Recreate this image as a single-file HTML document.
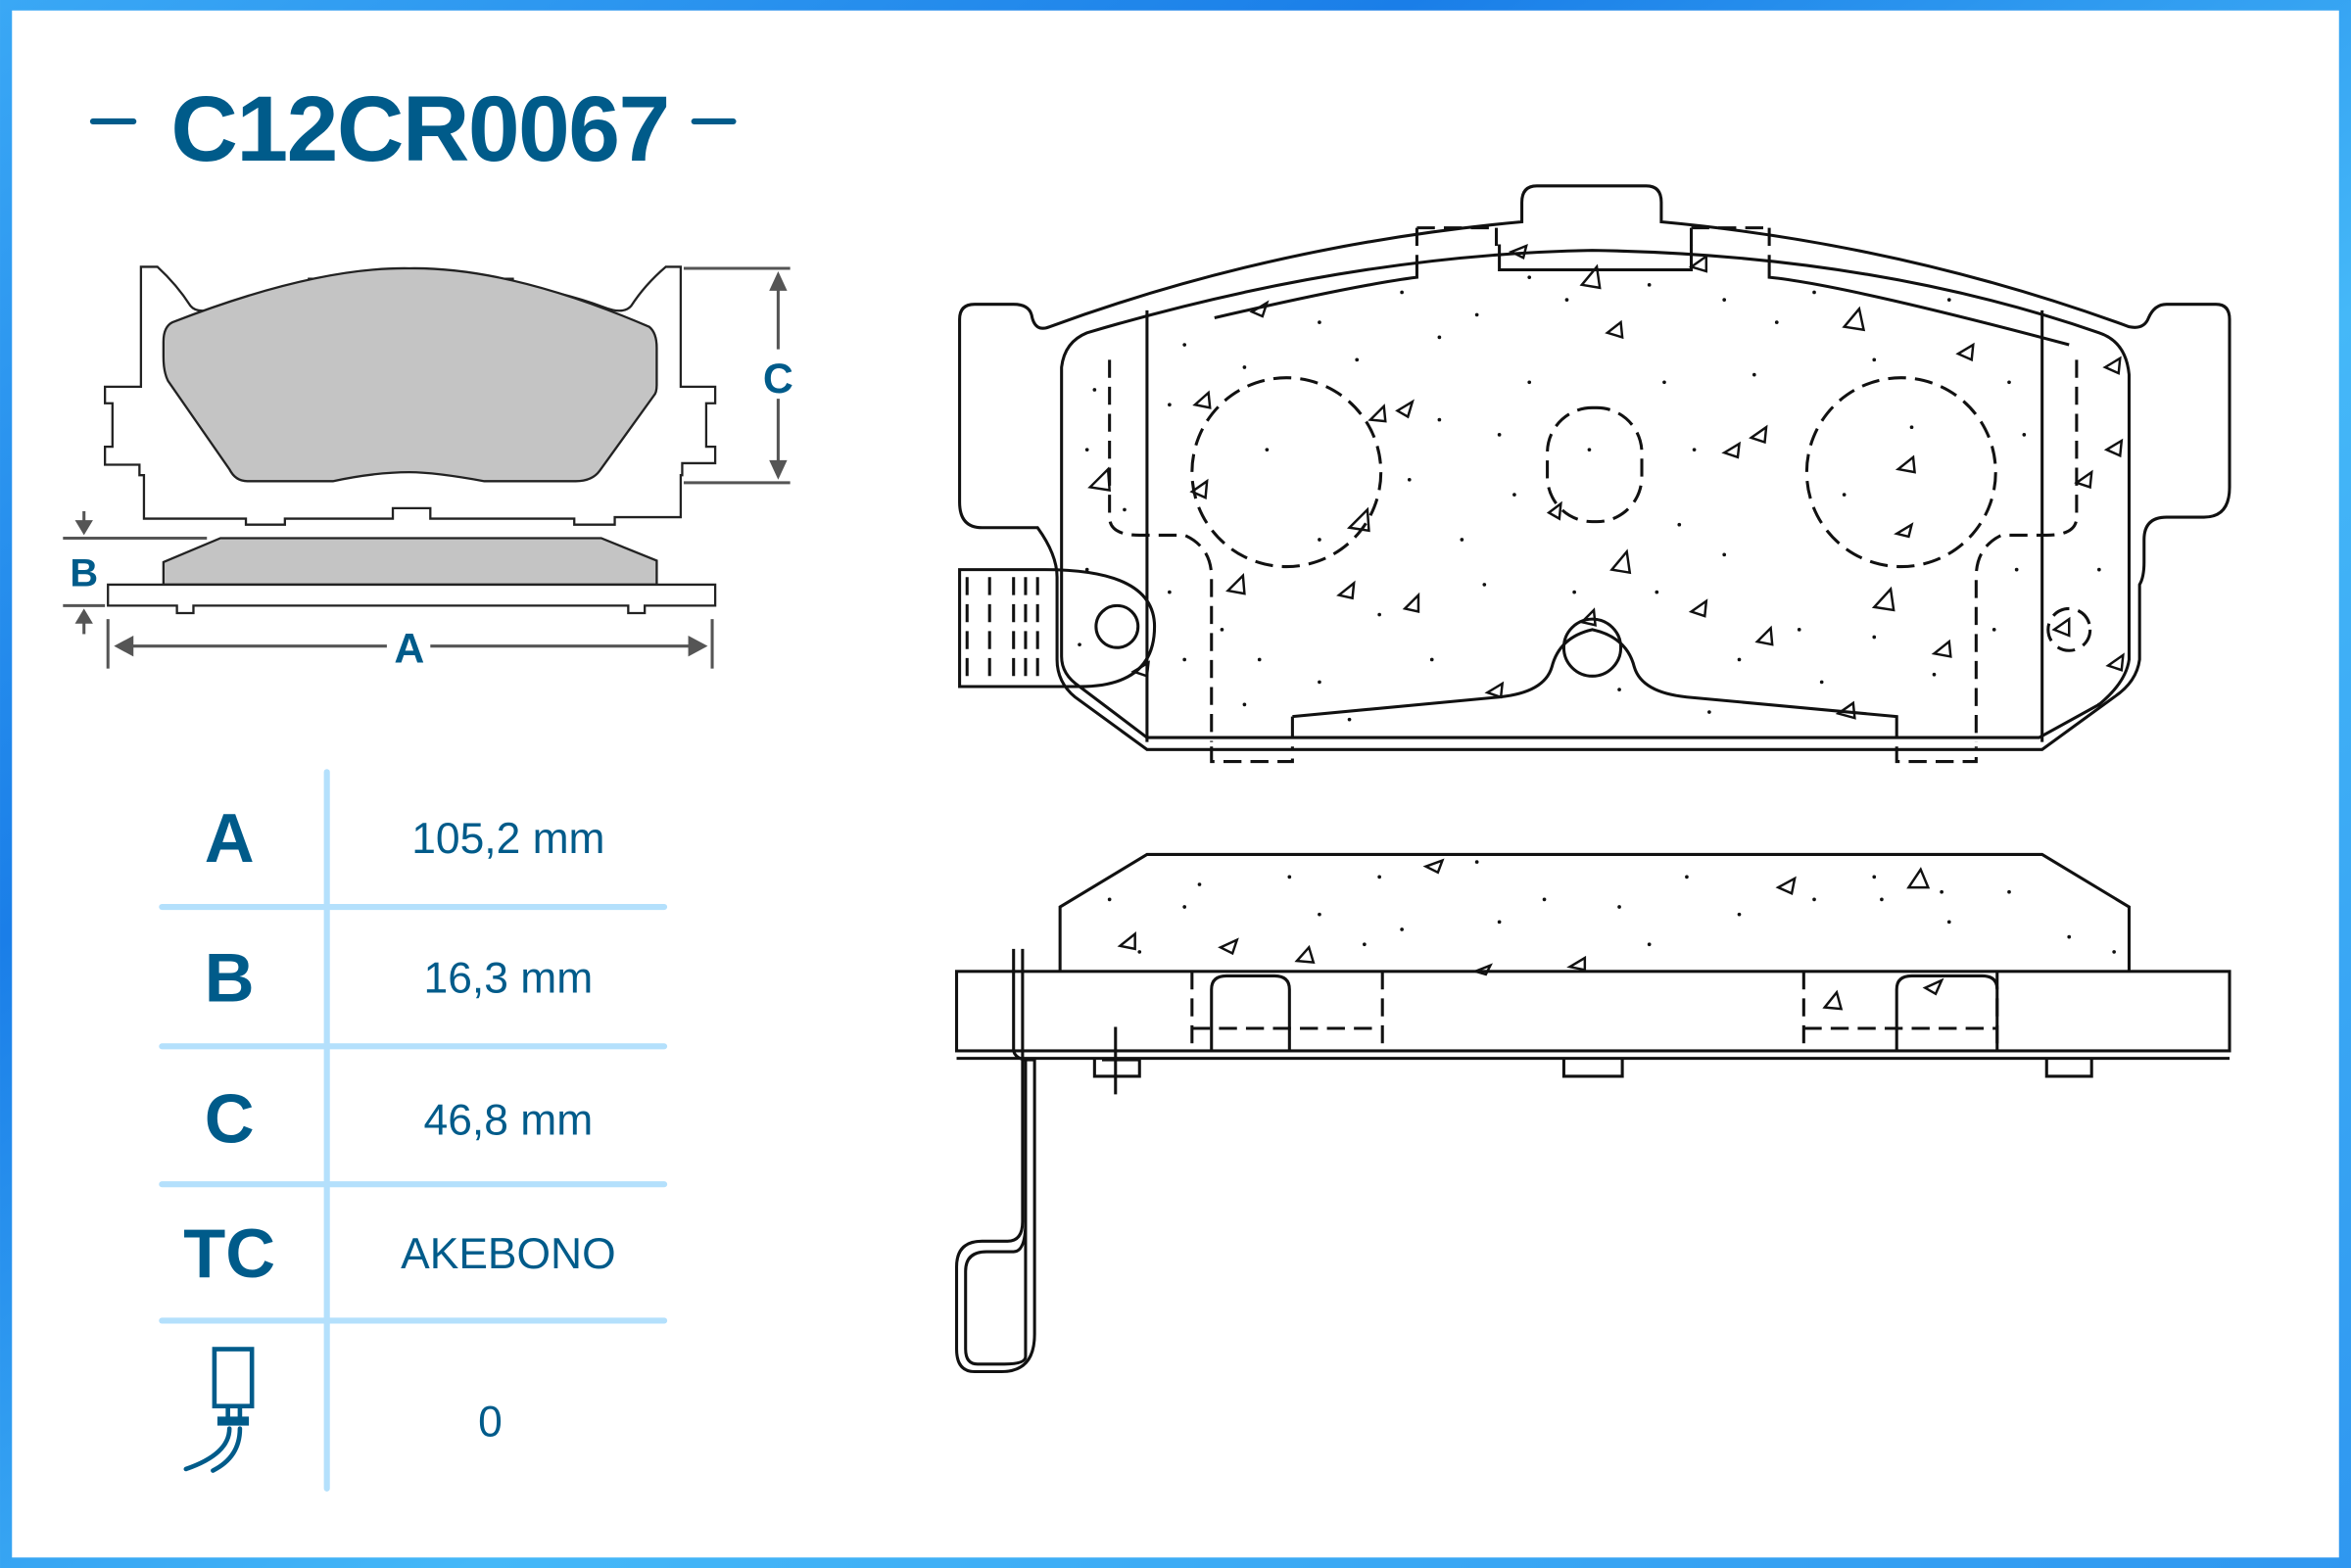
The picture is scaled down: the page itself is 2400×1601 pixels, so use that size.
<!DOCTYPE html>
<html><head><meta charset="utf-8"><style>
html,body{margin:0;padding:0;background:#fff}
svg{display:block}
text{font-family:"Liberation Sans",sans-serif}
</style></head><body>
<svg width="2400" height="1601" viewBox="0 0 1568 1046" xmlns="http://www.w3.org/2000/svg">
<defs>
<linearGradient id="bg" x1="0" y1="0" x2="1" y2="1">
<stop offset="0" stop-color="#3aa8f5"/><stop offset="0.3" stop-color="#1a7ee8"/><stop offset="0.6" stop-color="#45b8f8"/><stop offset="1" stop-color="#2f97f0"/>
</linearGradient>
</defs>
<rect x="0" y="0" width="1568" height="1046" fill="url(#bg)"/>
<rect x="8" y="7" width="1552" height="1032" fill="#fff"/>

<text x="280" y="107" font-size="62" font-weight="bold" fill="#005b8a" text-anchor="middle" letter-spacing="-1">C12CR0067</text>
<line x1="62" y1="81" x2="89" y2="81" stroke="#005b8a" stroke-width="4" stroke-linecap="round"/>
<line x1="463" y1="81" x2="489" y2="81" stroke="#005b8a" stroke-width="4" stroke-linecap="round"/>

<g fill="none" stroke="#222" stroke-width="1.5">
<path d="M94,178 H105 Q118,190 127,204 Q132,210 145,205 Q175,194 206,190 V186 H258 V183 H291 V186 H342 V190 Q373,194 403,205 Q416,210 421,204 Q430,190 444,178 H454 V258 H477 V269 H471 V298 H477 V309 H455 V317 H454 V345 H410 V350 H383 V346 H287 V339 H262 V346 H190 V350 H164 V346 H96 V317 H93 V310 H70 V298 H75 V269 H70 V258 H94 Z"/>
</g>
<path d="M115,215 Q210,178 273,179 Q340,178 433,218 Q438,222 438,232 V257 Q438,262 436,264 L400,314 Q395,321 384,321 H323 Q290,315 273,315 Q250,315 222,321 H165 Q157,321 153,313 L112,254 Q109,248 109,238 V228 Q109,218 115,215 Z" fill="#c4c4c4" stroke="#222" stroke-width="1.5"/>
<line x1="456" y1="179" x2="527" y2="179" stroke="#555" stroke-width="2"/>
<line x1="456" y1="322" x2="527" y2="322" stroke="#555" stroke-width="2"/>
<line x1="519" y1="190" x2="519" y2="233" stroke="#555" stroke-width="2"/>
<line x1="519" y1="266" x2="519" y2="312" stroke="#555" stroke-width="2"/>
<path d="M513,194 L519,181 L525,194 Z M513,307 L519,320 L525,307 Z" fill="#555"/>
<text x="519" y="262" font-size="28" font-weight="bold" fill="#005b8a" text-anchor="middle">C</text>
<path d="M109,375 L147,359 H401 L438,374 V390 H109 Z" fill="#c4c4c4" stroke="#222" stroke-width="1.5"/>
<path d="M72,390 H477 V404 H430 V409 H419 V404 H129 V409 H118 V404 H72 Z" fill="#fff" stroke="#222" stroke-width="1.5"/>
<line x1="42" y1="359" x2="138" y2="359" stroke="#555" stroke-width="2"/>
<line x1="42" y1="404" x2="70" y2="404" stroke="#555" stroke-width="2"/>
<line x1="56" y1="341" x2="56" y2="352" stroke="#555" stroke-width="2"/>
<line x1="56" y1="411" x2="56" y2="423" stroke="#555" stroke-width="2"/>
<path d="M50,347 L56,357 L62,347 Z M50,416 L56,406 L62,416 Z" fill="#555"/>
<text x="56" y="391" font-size="26" font-weight="bold" fill="#005b8a" text-anchor="middle">B</text>
<line x1="72" y1="413" x2="72" y2="446" stroke="#555" stroke-width="2"/>
<line x1="475" y1="413" x2="475" y2="446" stroke="#555" stroke-width="2"/>
<line x1="80" y1="431" x2="258" y2="431" stroke="#555" stroke-width="2"/>
<line x1="287" y1="431" x2="470" y2="431" stroke="#555" stroke-width="2"/>
<path d="M76,431 L89,424 V438 Z M472,431 L459,424 V438 Z" fill="#555"/>
<text x="273" y="442" font-size="28" font-weight="bold" fill="#005b8a" text-anchor="middle">A</text>

<g stroke="#b4e0fc" stroke-width="4" stroke-linecap="round">
<line x1="218" y1="515" x2="218" y2="993"/>
<line x1="108" y1="605" x2="443" y2="605"/>
<line x1="108" y1="698" x2="443" y2="698"/>
<line x1="108" y1="790" x2="443" y2="790"/>
<line x1="108" y1="881" x2="443" y2="881"/>
</g>
<g fill="#005b8a" text-anchor="middle">
<text x="153" y="575" font-size="46" font-weight="bold">A</text>
<text x="153" y="668" font-size="46" font-weight="bold">B</text>
<text x="153" y="762" font-size="46" font-weight="bold">C</text>
<text x="153" y="852" font-size="46" font-weight="bold">TC</text>
<text x="339" y="569" font-size="29">105,2 mm</text>
<text x="339" y="662" font-size="29">16,3 mm</text>
<text x="339" y="757" font-size="29">46,8 mm</text>
<text x="339" y="846" font-size="29">AKEBONO</text>
<text x="327" y="958" font-size="29">0</text>
</g>
<g fill="none" stroke="#005b8a" stroke-width="3" stroke-linecap="round">
<rect x="143" y="900" width="25" height="38"/>
<line x1="152" y1="939" x2="152" y2="946"/><line x1="160" y1="939" x2="160" y2="946"/>
<path d="M153,953 Q153,970 124,980"/><path d="M160,953 Q160,972 142,981"/>
</g>
<rect x="145" y="945" width="21" height="6" fill="#005b8a"/>

<g fill="none" stroke="#111" stroke-width="2">
<path d="M700,218 Q850,163 1015,148 V135 Q1015,124 1025,124 H1098 Q1108,124 1108,135 V148 Q1270,163 1420,218 Q1430,220 1433,212 Q1437,203 1445,203 H1478 Q1487,203 1487,213 V325 Q1487,345 1470,345 H1445 Q1430,345 1430,360 V375 Q1430,385 1427,390 V440 Q1425,455 1410,465 L1362,500 H765 L717,465 Q705,455 705,440 V385 Q705,370 692,352 H655 Q640,352 640,335 V213 Q640,203 650,203 H676 Q686,203 688,210 Q690,222 700,218 Z"/>
<path d="M725,222 Q900,170 1062,167 Q1250,170 1400,222 Q1418,228 1420,250 V440 Q1418,455 1400,470 L1360,492 H765 L720,458 Q708,450 708,438 V245 Q710,228 725,222 Z"/>
<path d="M765,207 V495 M1362,207 V495"/>
<path d="M1000,163 V180 H1128 V163" />
<path d="M945,170 V185 Q905,190 810,212 M1180,170 V185 Q1230,190 1380,230"/>
<path d="M862,478 L1000,465 Q1030,462 1035,445 Q1040,425 1062,420 Q1085,425 1090,445 Q1095,462 1125,465 L1265,478 V492 M862,478 V492"/>
<path d="M640,380 H697 Q770,380 770,418 Q770,458 720,458 H640 Z"/>
<circle cx="745" cy="418" r="14"/>
<circle cx="1062" cy="432" r="19"/>
</g>
<g fill="none" stroke="#111" stroke-width="2" stroke-dasharray="12,6">
<circle cx="858" cy="315" r="63"/>
<circle cx="1268" cy="315" r="63"/>
<rect x="1032" y="272" width="63" height="76" rx="30"/>
<circle cx="1380" cy="420" r="14"/>
<path d="M740,240 V345 Q740,357 760,357 H790 Q808,365 808,385 V495"/>
<path d="M1385,240 V345 Q1385,357 1365,357 H1335 Q1318,365 1318,385 V495"/>
<path d="M945,152 H998 M945,152 V170 M998,152 V170 M1128,152 H1180 M1128,152 V170 M1180,152 V170"/>
<path d="M808,498 V508 H862 V498 M1265,498 V508 H1318 V498"/>
<path d="M645,385 V455 M660,385 V455 M676,385 V455 M684,385 V455 M692,385 V455"/>
</g>
<g fill="#111">
<circle cx="1020" cy="185" r="1.2"/><circle cx="1045" cy="200" r="1.2"/><circle cx="1100" cy="190" r="1.2"/><circle cx="1150" cy="200" r="1.2"/><circle cx="1185" cy="215" r="1.2"/><circle cx="1210" cy="195" r="1.2"/><circle cx="935" cy="195" r="1.2"/><circle cx="960" cy="225" r="1.2"/><circle cx="905" cy="240" r="1.2"/><circle cx="880" cy="215" r="1.2"/><circle cx="830" cy="245" r="1.2"/><circle cx="790" cy="230" r="1.2"/><circle cx="780" cy="270" r="1.2"/><circle cx="730" cy="260" r="1.2"/><circle cx="725" cy="300" r="1.2"/><circle cx="750" cy="340" r="1.2"/><circle cx="725" cy="380" r="1.2"/><circle cx="780" cy="395" r="1.2"/><circle cx="790" cy="440" r="1.2"/><circle cx="815" cy="420" r="1.2"/><circle cx="840" cy="440" r="1.2"/><circle cx="830" cy="470" r="1.2"/><circle cx="880" cy="455" r="1.2"/><circle cx="920" cy="410" r="1.2"/><circle cx="955" cy="440" r="1.2"/><circle cx="975" cy="360" r="1.2"/><circle cx="990" cy="390" r="1.2"/><circle cx="1010" cy="330" r="1.2"/><circle cx="1000" cy="290" r="1.2"/><circle cx="1020" cy="255" r="1.2"/><circle cx="960" cy="280" r="1.2"/><circle cx="940" cy="320" r="1.2"/><circle cx="1110" cy="255" r="1.2"/><circle cx="1130" cy="300" r="1.2"/><circle cx="1120" cy="350" r="1.2"/><circle cx="1150" cy="370" r="1.2"/><circle cx="1105" cy="395" r="1.2"/><circle cx="1160" cy="440" r="1.2"/><circle cx="1200" cy="420" r="1.2"/><circle cx="1215" cy="455" r="1.2"/><circle cx="1250" cy="425" r="1.2"/><circle cx="1290" cy="450" r="1.2"/><circle cx="1330" cy="420" r="1.2"/><circle cx="1345" cy="380" r="1.2"/><circle cx="1350" cy="290" r="1.2"/><circle cx="1340" cy="255" r="1.2"/><circle cx="1300" cy="200" r="1.2"/><circle cx="1250" cy="240" r="1.2"/><circle cx="1275" cy="285" r="1.2"/><circle cx="1230" cy="330" r="1.2"/><circle cx="1400" cy="380" r="1.2"/><circle cx="1400" cy="470" r="1.2"/><circle cx="1080" cy="460" r="1.2"/><circle cx="1050" cy="395" r="1.2"/><circle cx="845" cy="300" r="1.2"/><circle cx="880" cy="360" r="1.2"/><circle cx="1060" cy="300" r="1.2"/><circle cx="900" cy="480" r="1.2"/><circle cx="1140" cy="475" r="1.2"/><circle cx="1170" cy="250" r="1.2"/><circle cx="985" cy="210" r="1.2"/><circle cx="720" cy="430" r="1.2"/>
</g>
<g fill="none" stroke="#111" stroke-width="1.6" stroke-linejoin="miter">
<path d="M1055,190 l10,-12 l2,14 z"/><path d="M1230,218 l10,-12 l3,14 z"/><path d="M835,208 l10,-6 l-3,9 z"/><path d="M1072,222 l9,-7 l1,10 z"/><path d="M1306,236 l10,-6 l-1,10 z"/><path d="M797,270 l9,-8 l1,10 z"/><path d="M914,280 l9,-9 l1,10 z"/><path d="M932,274 l10,-6 l-3,10 z"/><path d="M727,325 l12,-12 l1,14 z"/><path d="M795,328 l10,-7 l-1,11 z"/><path d="M1168,292 l10,-7 l-1,10 z"/><path d="M1150,302 l10,-6 l-1,9 z"/><path d="M1266,313 l10,-8 l1,10 z"/><path d="M1385,322 l10,-7 l-1,10 z"/><path d="M1405,300 l10,-6 l-1,10 z"/><path d="M900,352 l12,-12 l1,14 z"/><path d="M1033,342 l8,-6 l-1,10 z"/><path d="M1265,356 l10,-6 l-2,8 z"/><path d="M819,394 l10,-10 l1,12 z"/><path d="M893,397 l10,-8 l-1,10 z"/><path d="M937,406 l9,-9 l0,11 z"/><path d="M1075,380 l10,-12 l2,14 z"/><path d="M1250,405 l11,-12 l2,14 z"/><path d="M1128,408 l10,-7 l-1,10 z"/><path d="M1172,428 l9,-9 l1,11 z"/><path d="M1290,436 l10,-8 l1,10 z"/><path d="M756,448 l10,-6 l-1,9 z"/><path d="M1055,415 l8,-8 l1,10 z"/><path d="M992,462 l10,-6 l-1,9 z"/><path d="M1226,476 l10,-7 l1,10 z"/><path d="M1406,444 l10,-7 l-1,10 z"/><path d="M1404,245 l10,-6 l-1,10 z"/><path d="M1128,178 l10,-7 l0,10 z"/><path d="M1008,168 l10,-4 l-2,8 z"/><path d="M1370,420 l10,-7 l0,11 z"/>
</g>

<path d="M707,648 V605 L765,570 H1362 L1420,605 V648" fill="#fff" stroke="#111" stroke-width="2"/>
<rect x="638" y="648" width="849" height="53" fill="#fff" stroke="#111" stroke-width="2"/>
<g fill="none" stroke="#111" stroke-width="2">
<path d="M808,701 V660 Q808,651 818,651 H850 Q860,651 860,660 V701"/>
<path d="M1265,701 V660 Q1265,651 1275,651 H1322 Q1332,651 1332,660 V701"/>
<path d="M638,706 H1487 M730,706 V718 H760 V706 M1043,706 V718 H1082 V706 M1365,706 V718 H1395 V706"/>
<path d="M744,685 V730 M735,707 H760"/>
<path d="M676,633 L676,700 Q676,705 683,707 L690,707 L690,890 Q690,915 668,915 H650 Q638,915 638,900 V845 Q638,828 655,828 H672 Q682,828 682,815 V633"/>
<path d="M684,707 V905 Q684,910 670,910 H652 Q644,910 644,900 V848 Q644,835 658,835 H676 Q684,835 684,815"/>
</g>
<g fill="none" stroke="#111" stroke-width="2" stroke-dasharray="12,6">
<path d="M795,648 V701 M922,648 V701 M1203,648 V701 M1332,648 V701 M795,686 H922 M1203,686 H1332"/>
</g>
<g fill="#111">
<circle cx="740" cy="600" r="1.2"/><circle cx="790" cy="605" r="1.2"/><circle cx="800" cy="590" r="1.2"/><circle cx="860" cy="585" r="1.2"/><circle cx="880" cy="610" r="1.2"/><circle cx="920" cy="585" r="1.2"/><circle cx="935" cy="620" r="1.2"/><circle cx="985" cy="575" r="1.2"/><circle cx="1000" cy="615" r="1.2"/><circle cx="1030" cy="600" r="1.2"/><circle cx="1080" cy="605" r="1.2"/><circle cx="1100" cy="630" r="1.2"/><circle cx="1125" cy="585" r="1.2"/><circle cx="1160" cy="610" r="1.2"/><circle cx="1210" cy="600" r="1.2"/><circle cx="1250" cy="585" r="1.2"/><circle cx="1300" cy="615" r="1.2"/><circle cx="1340" cy="595" r="1.2"/><circle cx="1380" cy="625" r="1.2"/><circle cx="1410" cy="635" r="1.2"/><circle cx="760" cy="635" r="1.2"/><circle cx="910" cy="630" r="1.2"/><circle cx="1255" cy="600" r="1.2"/><circle cx="1295" cy="595" r="1.2"/>
</g>
<g fill="none" stroke="#111" stroke-width="1.6">
<path d="M951,578 l11,-4 l-3,8 z"/><path d="M1186,592 l11,-6 l-2,10 z"/><path d="M1273,592 l8,-12 l5,12 z"/><path d="M747,631 l10,-8 l0,10 z"/><path d="M814,632 l11,-5 l-3,9 z"/><path d="M865,641 l8,-9 l3,10 z"/><path d="M1047,645 l10,-6 l0,8 z"/><path d="M1217,672 l8,-10 l3,11 z"/><path d="M1284,659 l11,-5 l-4,9 z"/><path d="M984,648 l10,-4 l-3,6 z"/>
</g>
</svg>
</body></html>
